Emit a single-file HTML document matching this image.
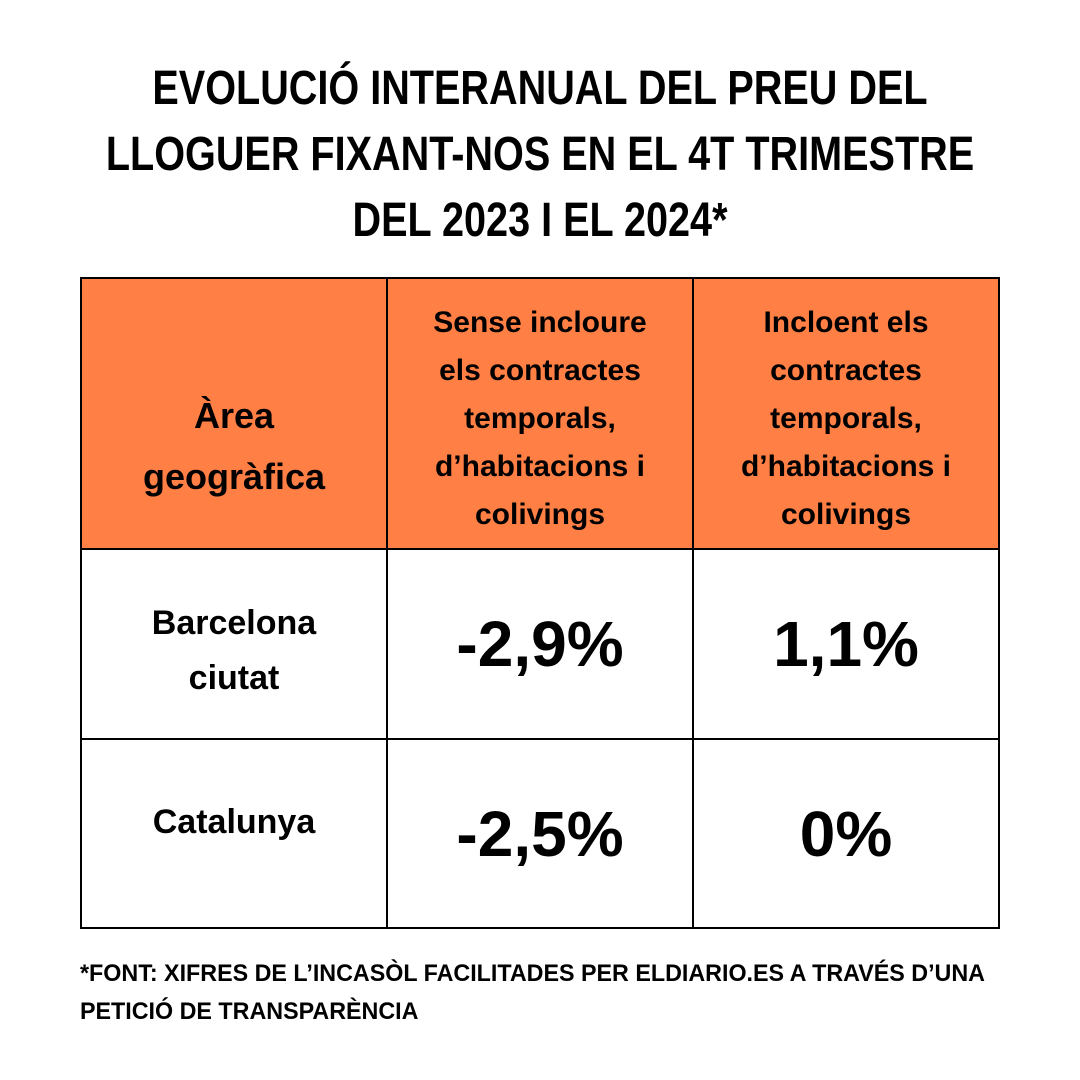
<!DOCTYPE html>
<html><head><meta charset="utf-8"><style>
body{margin:0;width:1080px;height:1080px;background:#fff;font-family:"Liberation Sans Narrow","Liberation Sans",sans-serif;font-weight:bold;color:#000;position:relative;overflow:hidden}
.t{position:absolute;left:0;width:1080px;text-align:center;font-size:48px;line-height:66px;top:56px;transform:scaleX(0.825);transform-origin:540px 0}
table{position:absolute;left:80px;top:277px;border-collapse:collapse;width:918px;table-layout:fixed}
td{border:2.5px solid #000;text-align:center;vertical-align:middle;padding:0}
.h td{background:#FF7F45;height:271px;font-size:30px;line-height:48px;padding-top:10px;box-sizing:border-box}
.h td.a{font-size:36px;line-height:61px;padding-top:64px}
.r1 td{height:190px;box-sizing:border-box}.r2 td{height:189px;box-sizing:border-box}
.n{font-size:34px;line-height:55px}
.v{font-size:64px}
.f{position:absolute;left:80px;top:955px;font-size:24px;line-height:38px;transform:scaleX(0.97);transform-origin:0 0;white-space:nowrap}
</style></head><body>
<div class="t">EVOLUCIÓ INTERANUAL DEL PREU DEL<br>LLOGUER FIXANT-NOS EN EL 4T TRIMESTRE<br>DEL 2023 I EL 2024*</div>
<table>
<colgroup><col style="width:306px"><col style="width:306px"><col style="width:306px"></colgroup>
<tr class="h"><td class="a">Àrea<br>geogràfica</td><td>Sense incloure<br>els contractes<br>temporals,<br>d’habitacions i<br>colivings</td><td>Incloent els<br>contractes<br>temporals,<br>d’habitacions i<br>colivings</td></tr>
<tr class="r1"><td class="n"><span style="position:relative;top:7px">Barcelona<br>ciutat</span></td><td class="v">-2,9%</td><td class="v">1,1%</td></tr>
<tr class="r2"><td class="n"><span style="position:relative;top:-11px">Catalunya</span></td><td class="v">-2,5%</td><td class="v">0%</td></tr>
</table>
<div class="f">*FONT: XIFRES DE L’INCASÒL FACILITADES PER ELDIARIO.ES A TRAVÉS D’UNA<br>PETICIÓ DE TRANSPARÈNCIA</div>
</body></html>
